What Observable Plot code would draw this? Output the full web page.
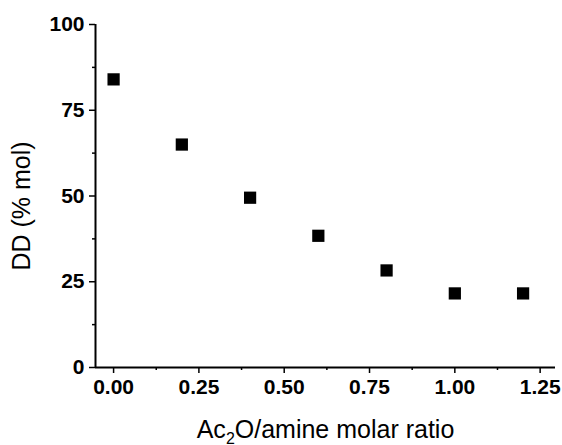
<!DOCTYPE html>
<html>
<head>
<meta charset="utf-8">
<script src="https://cdn.jsdelivr.net/npm/d3@7"></script>
<script src="https://cdn.jsdelivr.net/npm/@observablehq/plot@0.6"></script>
<style>
  html, body { margin: 0; padding: 0; background: #fff; }
  svg { font-family: "Liberation Sans", Arial, sans-serif; }
</style>
</head>
<body>
<div id="chart"></div>
<script>
const ratio = [0.0, 0.2, 0.4, 0.6, 0.8, 1.0, 1.2];
const dd = [84.0, 65.0, 49.5, 38.4, 28.3, 21.6, 21.6];
const xTicks = [0, 0.25, 0.5, 0.75, 1.0, 1.25];
const xMinor = [0.125, 0.375, 0.625, 0.875, 1.125];
const yTicks = [0, 25, 50, 75, 100];
const yMinor = [12.5, 37.5, 62.5, 87.5];
const xLabel = "Ac2O/amine molar ratio";
const yLabel = "DD (% mol)";

const data = ratio.map((r, i) => ({ratio: r, dd: dd[i]}));
const xDomain = [-0.053, 1.295];

const chart = Plot.plot({
  width: 562,
  height: 445,
  marginLeft: 95,
  marginRight: 7,
  marginTop: 24,
  marginBottom: 78,
  style: {fontFamily: '"Liberation Sans", Arial, sans-serif', color: "#000", background: "#fff"},
  x: {domain: xDomain},
  y: {domain: [0, 100]},
  marks: [
    Plot.axisX(xMinor, {tickSize: 3, strokeWidth: 1.5, tickFormat: () => "", label: null}),
    Plot.axisY(yMinor, {tickSize: 3, strokeWidth: 1.5, tickFormat: () => "", label: null}),
    Plot.axisX(xTicks, {
      tickSize: 6, strokeWidth: 1.5, tickPadding: 6,
      tickFormat: d3.format(".2f"),
      fontSize: 21, fontWeight: "bold",
      label: xLabel, labelAnchor: "center", labelArrow: "none", labelOffset: 70
    }),
    Plot.axisY(yTicks, {
      tickSize: 6, strokeWidth: 1.5, tickPadding: 5,
      tickFormat: d3.format("d"),
      fontSize: 21, fontWeight: "bold",
      label: null
    }),
    Plot.ruleY([0], {strokeWidth: 2}),
    Plot.ruleX([xDomain[0]], {strokeWidth: 2}),
    Plot.dot(data, {x: "ratio", y: "dd", symbol: "square", r: 6.9, fill: "#000", stroke: "none"})
  ]
});

const ns = "http://www.w3.org/2000/svg";
const xl = chart.querySelector('g[aria-label="x-axis label"] text');
if (xl) {
  xl.setAttribute("font-size", 25);
  xl.setAttribute("font-weight", "normal");
  xl.textContent = "";
  const a = document.createElementNS(ns, "tspan"); a.textContent = "Ac";
  const s = document.createElementNS(ns, "tspan"); s.textContent = "2";
  s.setAttribute("font-size", 16); s.setAttribute("dy", "6");
  const b = document.createElementNS(ns, "tspan"); b.textContent = "O/amine molar ratio";
  b.setAttribute("dy", "-6");
  xl.append(a, s, b);
}
const yl = document.createElementNS(ns, "text");
yl.textContent = yLabel;
yl.setAttribute("transform", "translate(21,206) rotate(-90)");
yl.setAttribute("text-anchor", "middle");
yl.setAttribute("dy", "0.35em");
yl.setAttribute("font-size", 25);
yl.setAttribute("fill", "#000");
yl.setAttribute("aria-label", "y-axis label");
chart.appendChild(yl);
document.getElementById("chart").appendChild(chart);
</script>
</body>
</html>
